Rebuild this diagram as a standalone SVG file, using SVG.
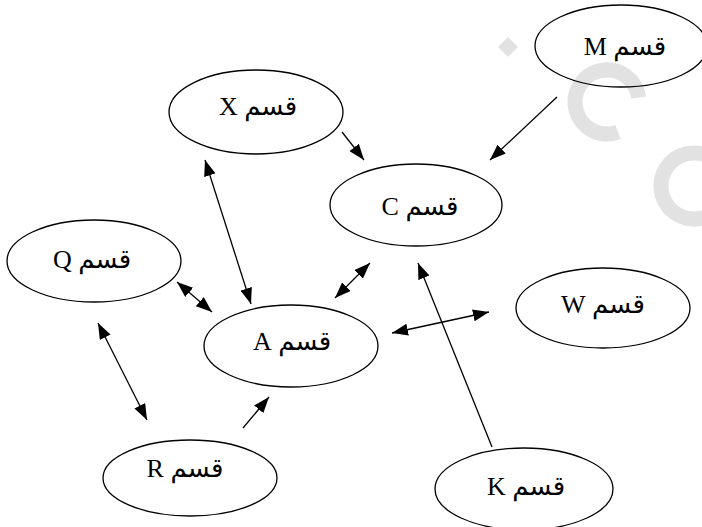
<svg xmlns="http://www.w3.org/2000/svg" width="702" height="527" viewBox="0 0 702 527">
<defs>
<marker id="ah" viewBox="0 0 16 12" refX="16" refY="6" markerWidth="16" markerHeight="12" markerUnits="userSpaceOnUse" orient="auto-start-reverse">
<path d="M0,0 L16,6 L0,12 Z" fill="#000"/>
</marker>
</defs>
<style>
.n ellipse{fill:none;stroke:#000;stroke-width:1.3}
.n text{font-family:"Liberation Serif","DejaVu Sans",serif;font-size:26px;fill:#000;text-anchor:middle;direction:rtl}
.e line{stroke:#000;stroke-width:1.3}
.wm{fill:none;stroke:#e2e2e2;stroke-width:15}
</style>
<rect width="702" height="527" fill="#fff"/>
<g id="watermark">
<path d="M508,37 L518,47 L508,57 L498,47 Z" fill="#e2e2e2"/>
<path class="wm" d="M638.7,97.5 A32 32 0 1 0 618,132"/>
<path class="wm" d="M726.7,181.4 A33 33 0 1 0 705.3,217"/>
</g>
<g id="edges" class="e">
<line x1="342" y1="132" x2="364" y2="160" marker-end="url(#ah)"/>
<line x1="557" y1="97" x2="490" y2="160" marker-end="url(#ah)"/>
<line x1="205" y1="160" x2="251" y2="304" marker-start="url(#ah)" marker-end="url(#ah)"/>
<line x1="177" y1="282" x2="212" y2="312" marker-start="url(#ah)" marker-end="url(#ah)"/>
<line x1="335" y1="298" x2="370" y2="263" marker-start="url(#ah)" marker-end="url(#ah)"/>
<line x1="392" y1="333" x2="489" y2="312" marker-start="url(#ah)" marker-end="url(#ah)"/>
<line x1="492" y1="447" x2="418" y2="263" marker-end="url(#ah)"/>
<line x1="98" y1="323" x2="147" y2="420" marker-start="url(#ah)" marker-end="url(#ah)"/>
<line x1="243" y1="428" x2="269" y2="397" marker-end="url(#ah)"/>
</g>
<g id="node-M" class="n"><ellipse cx="621" cy="46" rx="86" ry="41"/><text x="625" y="55">قسم M</text></g>
<g id="node-X" class="n"><ellipse cx="256" cy="112" rx="87" ry="42"/><text x="258" y="115">قسم X</text></g>
<g id="node-C" class="n"><ellipse cx="416" cy="205" rx="86" ry="41"/><text x="420" y="215">قسم C</text></g>
<g id="node-Q" class="n"><ellipse cx="94" cy="261" rx="87" ry="41"/><text x="92" y="268">قسم Q</text></g>
<g id="node-A" class="n"><ellipse cx="291" cy="346" rx="87" ry="41"/><text x="292" y="350">قسم A</text></g>
<g id="node-W" class="n"><ellipse cx="603" cy="308" rx="87" ry="40"/><text x="603" y="313">قسم W</text></g>
<g id="node-R" class="n"><ellipse cx="190" cy="478" rx="87" ry="38"/><text x="185" y="477">قسم R</text></g>
<g id="node-K" class="n"><ellipse cx="524" cy="489" rx="89" ry="41"/><text x="526" y="495">قسم K</text></g>
</svg>
